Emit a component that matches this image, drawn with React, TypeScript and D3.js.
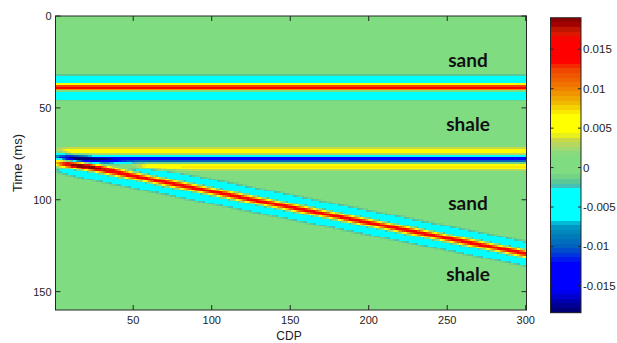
import React, { useMemo } from "react";
import * as d3 from "d3";

// ---- data ----
const cdps = d3.range(1, 301); // CDP 1..300
const times = d3.range(0, 161); // ms samples
const layerTimes = [38.8, 77.8]; // flat reflectors (ms)
const layerAmps = [0.0145, -0.0152];
const wedgeCdp = [0, 300];
const wedgeBaseTime = [78.6, 129.4];
const wedgeAmp = 0.0145;
const peakFreq = 96; // Hz (Ricker)
const colorDomain = [-0.0184, 0.019];
const xTicks = [50, 100, 150, 200, 250, 300];
const yTicks = [0, 50, 100, 150];
const cbTicks = [-0.015, -0.01, -0.005, 0, 0.005, 0.01, 0.015];
const cbTickLabels = ["-0.015", "-0.01", "-0.005", "0", "0.005", "0.01", "0.015"];
const layerLabels = [
  { text: "sand", t: 24.5 },
  { text: "shale", t: 59.5 },
  { text: "sand", t: 102.5 },
  { text: "shale", t: 141 },
];

// colormap stops (value -> colour), jet as it appears in the reference
const cmapValues = [
  -0.0184, -0.0175, -0.0165, -0.0155, -0.0122, -0.0112, -0.01, -0.0085, -0.0072, -0.0065,
  -0.0028, -0.0024, -0.0016, -0.0008, 0.0016, 0.0025, 0.0035, 0.0045, 0.0065, 0.008,
  0.01, 0.0125, 0.0135, 0.0162, 0.0172, 0.0182, 0.019,
];
const cmapColors = [
  "#000064", "#000096", "#0000c8", "#0000ff", "#0000ff", "#0030e0", "#0060c0", "#0080b8", "#00a0c8", "#00ffff",
  "#00ffff", "#40c0b8", "#60c890", "#80dc80", "#80dc80", "#a8d870", "#c8d846", "#ffff00", "#ffff00", "#f0c000",
  "#f08000", "#f04000", "#ff0000", "#ff0000", "#d02000", "#a00000", "#800000",
];

const W = 617;
const H = 343;
const plot = { left: 55.5, right: 526.5, top: 16, bottom: 310 };
const cb = { left: 550.5, right: 581, top: 17.7, bottom: 312.7 };
const NLEV = 64;

function ricker(tauMs: number) {
  const a = Math.pow((Math.PI * peakFreq * tauMs) / 1000, 2);
  return (1 - 2 * a) * Math.exp(-a);
}

export default function App() {
  const x = d3.scaleLinear().domain([0.5, 300.5]).range([plot.left, plot.right]);
  const y = d3.scaleLinear().domain([0, 160]).range([plot.top, plot.bottom]);
  const yc = d3.scaleLinear().domain(colorDomain).range([cb.bottom, cb.top]);
  const cmap = d3
    .scaleLinear<string>()
    .domain(cmapValues)
    .range(cmapColors)
    .interpolate(d3.interpolateRgb)
    .clamp(true);
  const step = (colorDomain[1] - colorDomain[0]) / NLEV;
  const levelColors = d3.range(NLEV).map((i) => cmap(colorDomain[0] + (i + 0.5) * step));
  const quant = d3
    .scaleQuantize<number>()
    .domain(colorDomain)
    .range(d3.range(NLEV));
  const base = d3.scaleLinear().domain(wedgeCdp).range(wedgeBaseTime);
  const bgIdx = quant(0) as number;

  const rects = useMemo(() => {
    const out: { x0: number; x1: number; t: number; c: number }[] = [];
    for (const t of times) {
      let runStart = cdps[0];
      let runIdx = -1;
      cdps.forEach((c, k) => {
        let v = 0;
        layerTimes.forEach((lt, i) => (v += layerAmps[i] * ricker(t - lt)));
        v += wedgeAmp * ricker(t - base(c));
        const vi = Math.max(colorDomain[0], Math.min(colorDomain[1] - 1e-9, v));
        const idx = quant(vi) as number;
        if (k === 0) {
          runIdx = idx;
          runStart = c;
        } else if (idx !== runIdx) {
          out.push({ x0: runStart, x1: c - 1, t, c: runIdx });
          runIdx = idx;
          runStart = c;
        }
      });
      out.push({ x0: runStart, x1: cdps[cdps.length - 1], t, c: runIdx });
    }
    return out.filter((r) => r.c !== bgIdx);
  }, []);

  const axisColor = "#262626";
  const tickFont = "Liberation Sans, Arial, Helvetica, sans-serif";
  const tl = 5;

  return (
    <svg
      width={W}
      height={H}
      style={{ position: "absolute", left: 0, top: 0, background: "#fff" }}
    >
      <defs>
        <clipPath id="plotclip">
          <rect x={plot.left} y={plot.top} width={plot.right - plot.left} height={plot.bottom - plot.top} />
        </clipPath>
      </defs>
      <g clipPath="url(#plotclip)" shapeRendering="crispEdges">
        <rect
          x={plot.left}
          y={plot.top}
          width={plot.right - plot.left}
          height={plot.bottom - plot.top}
          fill={levelColors[bgIdx]}
        />
        {rects.map((r, i) => (
          <rect
            key={i}
            x={x(r.x0 - 0.5)}
            width={x(r.x1 + 0.5) - x(r.x0 - 0.5)}
            y={y(r.t - 0.5)}
            height={y(r.t + 0.5) - y(r.t - 0.5)}
            fill={levelColors[r.c]}
          />
        ))}
      </g>
      {/* frame */}
      <rect
        x={plot.left}
        y={plot.top}
        width={plot.right - plot.left}
        height={plot.bottom - plot.top}
        fill="none"
        stroke={axisColor}
        strokeWidth={1}
      />
      {xTicks.map((v) => (
        <g key={"x" + v}>
          <line x1={x(v)} x2={x(v)} y1={plot.bottom} y2={plot.bottom - tl} stroke={axisColor} />
          <line x1={x(v)} x2={x(v)} y1={plot.top} y2={plot.top + tl} stroke={axisColor} />
          <text x={x(v)} y={324} textAnchor="middle" fontFamily={tickFont} fontSize={11} fill="#222">
            {v}
          </text>
        </g>
      ))}
      {yTicks.map((v) => (
        <g key={"y" + v}>
          <line x1={plot.left} x2={plot.left + tl} y1={y(v)} y2={y(v)} stroke={axisColor} />
          <line x1={plot.right} x2={plot.right - tl} y1={y(v)} y2={y(v)} stroke={axisColor} />
          <text x={51.5} y={y(v) + 4} textAnchor="end" fontFamily={tickFont} fontSize={11} fill="#222">
            {v}
          </text>
        </g>
      ))}
      <text x={289} y={340} textAnchor="middle" fontFamily={tickFont} fontSize={12} fill="#222">
        CDP
      </text>
      <text
        transform={`translate(22,${(plot.top + plot.bottom) / 2}) rotate(-90)`}
        textAnchor="middle"
        fontFamily={tickFont}
        fontSize={13}
        fill="#222"
      >
        Time (ms)
      </text>
      {layerLabels.map((l, i) => (
        <text
          key={"l" + i}
          x={468}
          y={y(l.t) + 6}
          textAnchor="middle"
          fontFamily="Lato, Open Sans, sans-serif"
          fontWeight="bold"
          fontSize={19}
          fill="#111"
        >
          {l.text}
        </text>
      ))}
      {/* colorbar */}
      <g shapeRendering="crispEdges">
        {d3.range(NLEV).map((i) => {
          const v0 = colorDomain[0] + step * i;
          const v1 = colorDomain[0] + step * (i + 1);
          return (
            <rect
              key={"cb" + i}
              x={cb.left}
              width={cb.right - cb.left}
              y={yc(v1)}
              height={yc(v0) - yc(v1)}
              fill={levelColors[i]}
            />
          );
        })}
      </g>
      <rect
        x={cb.left}
        y={cb.top}
        width={cb.right - cb.left}
        height={cb.bottom - cb.top}
        fill="none"
        stroke={axisColor}
      />
      {cbTicks.map((v, i) => (
        <g key={"cbt" + i}>
          <line x1={cb.left} x2={cb.left + 3} y1={yc(v)} y2={yc(v)} stroke={axisColor} />
          <line x1={cb.right} x2={cb.right - 3} y1={yc(v)} y2={yc(v)} stroke={axisColor} />
          <text x={583} y={yc(v) + 4} fontFamily={tickFont} fontSize={11.5} fill="#222">
            {cbTickLabels[i]}
          </text>
        </g>
      ))}
    </svg>
  );
}
